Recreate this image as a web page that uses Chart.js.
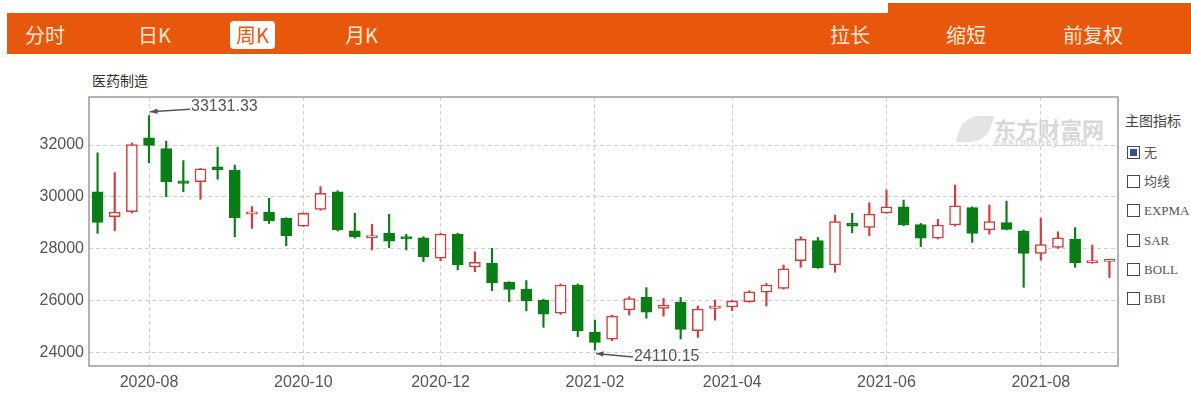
<!DOCTYPE html>
<html>
<head>
<meta charset="utf-8">
<script src="https://cdn.jsdelivr.net/npm/chart.js@4.4.1/dist/chart.umd.min.js"></script>
<style>
  body { margin: 0; width: 1191px; height: 395px; background: #fff; position: relative; overflow: hidden; font-family: "Noto Sans CJK SC", "Liberation Sans", sans-serif; }
  .bar { position: absolute; left: 7px; top: 13px; width: 1184px; height: 41px; background: #e8580c; }
  .bar2 { position: absolute; left: 888px; top: 3px; width: 303px; height: 51px; background: #e8580c; }
  .tab { position: absolute; top: 21px; font-size: 20px; line-height: 28px; color: #fde8d6; }
  .tab.on { background: #fff; color: #e8580c; border-radius: 4px; padding: 0 6px; }
  .title { position: absolute; left: 92px; top: 70px; font-size: 14px; color: #333; }
  .wm { position: absolute; left: 994px; top: 112px; color: #d8d8d8; font-weight: bold; font-size: 22px; letter-spacing: 0px; font-family: "Noto Sans CJK SC"; }
  .wm small { display: block; font-size: 10px; letter-spacing: 1.5px; margin-top: -7px; font-family: "Liberation Sans"; }
  .logo { position: absolute; left: 960px; top: 116px; width: 30px; height: 26px; border-radius: 50% 10% 50% 10%; background: #e4e4e4; transform: skewX(-20deg); }
  .panel { position: absolute; left: 1125px; top: 110px; font-size: 14px; color: #444; }
  .opt { position: absolute; left: 1127px; font-family: "Liberation Serif", "Noto Sans CJK SC", serif; font-size: 13px; color: #555; line-height: 14px; }
  .opt i { display: inline-block; width: 11px; height: 11px; border: 1.5px solid #3a4a6a; vertical-align: -2px; margin-right: 4px; position: relative; }
  .opt i.c::after { content: ""; position: absolute; left: 2px; top: 2px; width: 7px; height: 7px; background: #34558a; }
  canvas { position: absolute; left: 0; top: 0; }
</style>
</head>
<body>
<div class="bar"></div><div class="bar2"></div>
<div class="tab" style="left:25px">分时</div>
<div class="tab" style="left:138px">日K</div>
<div class="tab on" style="left:230px">周K</div>
<div class="tab" style="left:345px">月K</div>
<div class="tab" style="left:830px">拉长</div>
<div class="tab" style="left:946px">缩短</div>
<div class="tab" style="left:1063px">前复权</div>
<div class="title">医药制造</div>
<div class="logo"></div>
<div class="wm">东方财富网<small>eastmoney.com</small></div>
<div class="panel">主图指标</div>
<div class="opt" style="top:146px"><i class="c"></i>无</div>
<div class="opt" style="top:175px"><i></i>均线</div>
<div class="opt" style="top:204px"><i></i>EXPMA</div>
<div class="opt" style="top:234px"><i></i>SAR</div>
<div class="opt" style="top:263px"><i></i>BOLL</div>
<div class="opt" style="top:292px"><i></i>BBI</div>
<canvas id="kline" width="1191" height="395"></canvas>
<script>
// weekly candles, labelled by last trading day of the week
const weeks = [
  "2020-07-17","2020-07-24","2020-07-31","2020-08-07","2020-08-14","2020-08-21","2020-08-28","2020-09-04","2020-09-11","2020-09-18",
  "2020-09-25","2020-09-30","2020-10-09","2020-10-16","2020-10-23","2020-10-30","2020-11-06","2020-11-13","2020-11-20","2020-11-27",
  "2020-12-04","2020-12-11","2020-12-18","2020-12-25","2020-12-31","2021-01-08","2021-01-15","2021-01-22","2021-01-29","2021-02-05",
  "2021-02-10","2021-02-19","2021-02-26","2021-03-05","2021-03-12","2021-03-19","2021-03-26","2021-04-02","2021-04-09","2021-04-16",
  "2021-04-23","2021-04-30","2021-05-07","2021-05-14","2021-05-21","2021-05-28","2021-06-04","2021-06-11","2021-06-18","2021-06-25",
  "2021-07-02","2021-07-09","2021-07-16","2021-07-23","2021-07-30","2021-08-06","2021-08-13","2021-08-20","2021-08-27","2021-09-03"
];
const opens = [30200,29240,29430,32280,31860,30620,30590,31160,31040,29340,29420,29180,28880,29520,30200,28700,28430,28600,28470,28430,
  27640,28570,27310,27440,26710,26450,26030,25520,26610,24790,24520,25650,26130,25710,25940,24850,25710,25770,25970,26330,
  26480,27550,28320,27380,28980,28830,29390,29620,28940,28410,28920,29590,28730,29010,28690,27830,28060,28370,27470,27520];
const closes = [29020,29420,32020,31990,30590,30520,31080,31040,29190,29430,29090,28510,29370,30140,28730,28470,28510,28300,28380,27700,
  28570,27380,27480,26700,26440,26000,25490,26610,24850,24400,25410,26090,25560,25840,24900,25680,25800,25990,26350,26610,
  27230,28370,27280,29050,28880,29340,29620,28920,28410,28920,29660,28600,29050,28750,27830,28170,28430,27470,27510,27570];
const highs = [31700,30935,32080,33131.33,32150,31400,31100,31910,31230,29630,29950,29200,29390,30400,30240,29370,28950,29330,28560,28470,
  28600,28600,27890,28020,26740,26780,26060,26650,26650,25260,25450,26160,26510,26090,26130,25800,26030,26030,26390,26670,
  27380,28470,28440,29300,29370,29780,30270,29880,28980,29140,30460,29620,29690,29840,28730,29180,28660,28820,28150,27580];
const lows = [28600,28700,29380,31320,30010,30200,29910,30680,28470,28790,28980,28120,28860,29490,28690,28410,27960,28050,27960,27510,
  27545,27190,27120,26390,25970,25610,24980,25480,24620,24110.15,24465,25450,25330,25410,24530,24590,25260,25620,25940,25800,
  26450,27290,27250,27100,28620,28510,29370,28890,28090,28380,28880,28250,28570,28730,26520,27570,28020,27290,27440,26900];
const yTicks = [24000, 26000, 28000, 30000, 32000];

const UP = "#d23c3c";
const DOWN = "#0a7d16";
const isUp = opens.map((o, i) => closes[i] >= o);

function arrow(ctx, x1, y1, x2, y2) {
  // line from (x1,y1) to (x2,y2), head at the second point
  const ang = Math.atan2(y2 - y1, x2 - x1);
  ctx.beginPath();
  ctx.moveTo(x1, y1);
  ctx.lineTo(x2, y2);
  ctx.stroke();
  ctx.beginPath();
  ctx.moveTo(x2, y2);
  ctx.lineTo(x2 - 8 * Math.cos(ang - 0.35), y2 - 8 * Math.sin(ang - 0.35));
  ctx.lineTo(x2 - 8 * Math.cos(ang + 0.35), y2 - 8 * Math.sin(ang + 0.35));
  ctx.closePath();
  ctx.fill();
}

const frame = {
  id: "frame",
  afterDraw(chart) {
    const { ctx, chartArea: a, scales: { x, y } } = chart;
    ctx.save();
    ctx.strokeStyle = "#9a9a9a";
    ctx.lineWidth = 1.5;
    ctx.strokeRect(a.left, a.top, a.right - a.left, a.bottom - a.top);

    // max / min markers
    const hi = highs.indexOf(Math.max(...highs));
    const lo = lows.indexOf(Math.min(...lows));
    ctx.strokeStyle = "#555";
    ctx.fillStyle = "#555";
    ctx.lineWidth = 1.5;
    ctx.font = "16px 'Liberation Sans', Arial";
    ctx.textBaseline = "middle";
    let px = x.getPixelForValue(hi), py = y.getPixelForValue(highs[hi]);
    arrow(ctx, px + 41, py - 6.5, px + 1, py - 4);
    ctx.fillText(highs[hi].toFixed(2), px + 42, py - 9.5);
    px = x.getPixelForValue(lo); py = y.getPixelForValue(lows[lo]);
    arrow(ctx, px + 38, py + 7, px + 1, py + 3.5);
    ctx.fillText(lows[lo].toFixed(2), px + 39, py + 6.5);
    ctx.restore();
  }
};

new Chart(document.getElementById("kline"), {
  type: "bar",
  data: {
    labels: weeks,
    datasets: [
      {
        label: "body",
        data: opens.map((o, i) => [o, closes[i]]),
        backgroundColor: isUp.map((u) => (u ? "#ffffff" : DOWN)),
        borderColor: isUp.map((u) => (u ? UP : DOWN)),
        borderWidth: 1.5,
        borderSkipped: false,
        barThickness: 11,
        minBarLength: 2,
        grouped: false,
        order: 1,
      },
      {
        label: "wick",
        data: lows.map((l, i) => [l, highs[i]]),
        backgroundColor: isUp.map((u) => (u ? UP : DOWN)),
        barThickness: 1.5,
        grouped: false,
        order: 2,
      },
    ],
  },
  options: {
    responsive: false,
    animation: false,
    layout: { padding: { left: 0, top: 97, right: 73, bottom: 0 } },
    plugins: { legend: { display: false }, tooltip: { enabled: false } },
    scales: {
      x: {
        afterFit: (s) => { s.height = 29; },
        grid: { color: "#cfcfcf", drawTicks: false, offset: false },
        border: { display: false, dash: [4, 3] },
        ticks: {
          autoSkip: false,
          maxRotation: 0,
          padding: 7,
          color: "#555",
          font: { family: "'Liberation Sans', Arial", size: 16 },
          callback: function (v, i) {
            const d = weeks[i];
            if (i === 0 || d.slice(5, 7) === weeks[i - 1].slice(5, 7)) return null;
            return Number(d.slice(5, 7)) % 2 === 0 ? d.slice(0, 7) : null;
          },
        },
      },
      y: {
        min: 23490,
        max: 33850,
        afterFit: (s) => { s.width = 89; },
        afterBuildTicks: (s) => { s.ticks = yTicks.map((v) => ({ value: v })); },
        grid: { color: "#cfcfcf", drawTicks: false },
        border: { display: false, dash: [4, 3] },
        ticks: {
          padding: 5,
          color: "#555",
          font: { family: "'Liberation Sans', Arial", size: 16 },
          callback: (v) => String(v),
        },
      },
    },
  },
  plugins: [frame],
});
</script>
</body>
</html>
